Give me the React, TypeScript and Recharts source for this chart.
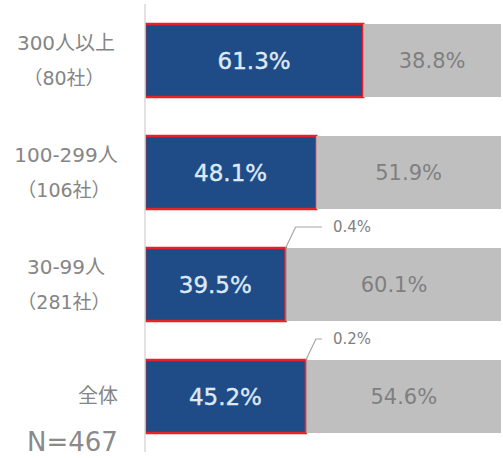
import { BarChart, Bar, XAxis, YAxis, LabelList } from "recharts";

const groups = ["300人以上", "100-299人", "30-99人", "全体"];
const companies = ["（80社）", "（106社）", "（281社）", ""];
const yesValues = [61.3, 48.1, 39.5, 45.2];
const naValues = [0, 0, 0.4, 0.2];
const noValues = [38.8, 51.9, 60.1, 54.6];

const data = groups.map((g, i) => ({
  group: g,
  yes: yesValues[i],
  na: naValues[i],
  no: noValues[i],
}));

const NUM_FONT = '"DejaVu Sans", "Noto Sans CJK JP", sans-serif';

function CategoryTick({ y, payload }: any) {
  const i = groups.indexOf(payload.value);
  const sub = companies[i];
  if (!sub) {
    return (
      <text x={118} y={y} textAnchor="end" dominantBaseline="central" fontSize={20} fill="#858585" fontFamily={NUM_FONT}>
        {payload.value}
      </text>
    );
  }
  return (
    <g>
      <text x={66} y={y - 17} textAnchor="middle" dominantBaseline="central" fontSize={20} fill="#858585" fontFamily={NUM_FONT}>
        {payload.value}
      </text>
      <text x={64} y={y + 18} textAnchor="middle" dominantBaseline="central" fontSize={19} fill="#858585" fontFamily={NUM_FONT}>
        {sub}
      </text>
    </g>
  );
}

function LeaderLabel({ x, y, value }: any) {
  if (!value) return null;
  const ly = y - 21;
  return (
    <g>
      <polyline points={`${x},${y} ${x + 10},${ly} ${322},${ly}`} fill="none" stroke="#a6a6a6" strokeWidth={1.2} />
      <text x={333} y={ly} dominantBaseline="central" fontSize={15} fill="#7f7f7f" fontFamily={NUM_FONT}>
        {value}%
      </text>
    </g>
  );
}

export default function App() {
  return (
    <div style={{ position: "absolute", left: 0, top: 0, width: 503, height: 458, background: "#fff" }}>
      <BarChart
        width={503}
        height={458}
        data={data}
        layout="vertical"
        margin={{ top: 4, right: 2, bottom: 6, left: 0 }}
        barSize={73}
      >
        <XAxis type="number" domain={[0, 100]} allowDataOverflow hide />
        <YAxis
          type="category"
          dataKey="group"
          width={145}
          axisLine={{ stroke: "#d9d9d9", strokeWidth: 1.5 }}
          tickLine={false}
          tick={<CategoryTick />}
          interval={0}
        />
        <Bar dataKey="yes" stackId="a" fill="#1f4b87" stroke="#e8202a" strokeWidth={2.5} isAnimationActive={false}>
          <LabelList
            dataKey="yes"
            position="center"
            formatter={(v: any) => `${v}%`}
            fill="#dde8f5"
            fontSize={23}
            fontFamily={NUM_FONT}
            stroke="#dde8f5"
            strokeWidth={0.4}
          />
        </Bar>
        <Bar dataKey="na" stackId="a" fill="#a5a5a5" isAnimationActive={false}>
          <LabelList dataKey="na" content={<LeaderLabel />} />
        </Bar>
        <Bar dataKey="no" stackId="a" fill="#bfbfbf" isAnimationActive={false}>
          <LabelList
            dataKey="no"
            position="center"
            formatter={(v: any) => `${v}%`}
            fill="#7f7f7f"
            fontSize={21}
            fontFamily={NUM_FONT}
          />
        </Bar>
      </BarChart>
      <div
        style={{
          position: "absolute",
          left: 27,
          top: 427,
          fontSize: 26,
          lineHeight: "30px",
          color: "#8a8a8a",
          fontFamily: NUM_FONT,
        }}
      >
        N=467
      </div>
    </div>
  );
}
